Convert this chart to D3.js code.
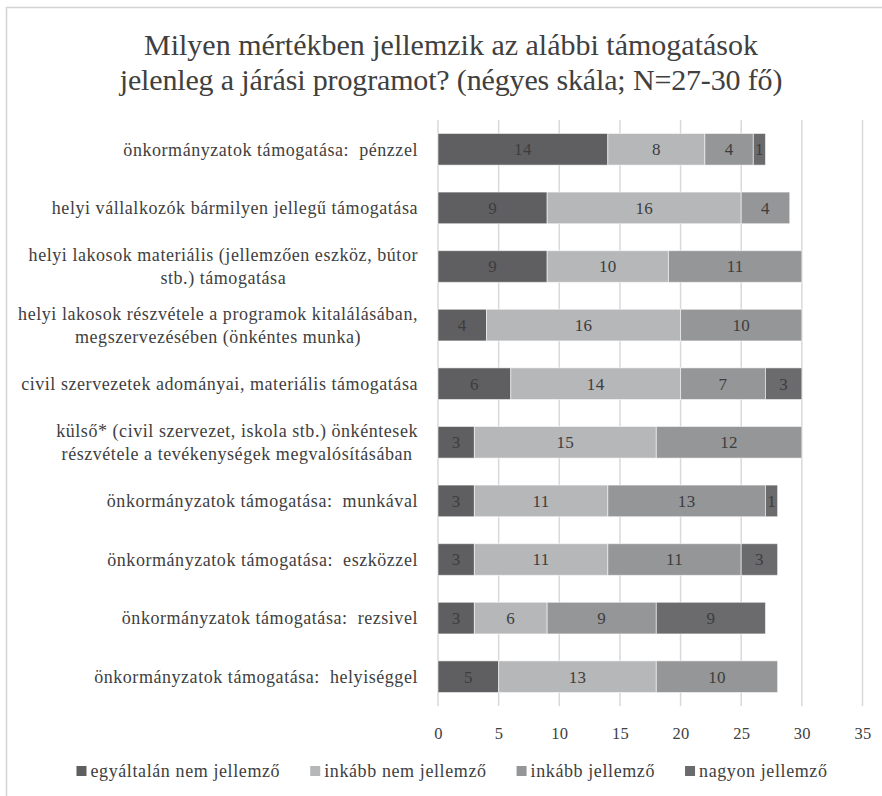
<!DOCTYPE html>
<html>
<head>
<meta charset="utf-8">
<script src="https://cdn.jsdelivr.net/npm/d3@7"></script>
<style>
  html, body { margin: 0; padding: 0; background: #fff; }
  svg { display: block; }
  text { font-family: "Liberation Serif", "DejaVu Serif", serif; white-space: pre; }
</style>
</head>
<body>
<svg id="chart" width="882" height="796"></svg>
<script>
// Survey responses (number of respondents) per support type, four-point scale
const categories = [
  ["önkormányzatok támogatása:  pénzzel"],
  ["helyi vállalkozók bármilyen jellegű támogatása"],
  ["helyi lakosok materiális (jellemzően eszköz, bútor", "stb.) támogatása"],
  ["helyi lakosok részvétele a programok kitalálásában,", "megszervezésében (önkéntes munka)"],
  ["civil szervezetek adományai, materiális támogatása"],
  ["külső* (civil szervezet, iskola stb.) önkéntesek", "részvétele a tevékenységek megvalósításában"],
  ["önkormányzatok támogatása:  munkával"],
  ["önkormányzatok támogatása:  eszközzel"],
  ["önkormányzatok támogatása:  rezsivel"],
  ["önkormányzatok támogatása:  helyiséggel"]
];
const seriesNames = ["egyáltalán nem jellemző", "inkább nem jellemző", "inkább jellemző", "nagyon jellemző"];
const egyaltalanNem = [14, 9, 9, 4, 6, 3, 3, 3, 3, 5];
const inkabbNem     = [8, 16, 10, 16, 14, 15, 11, 11, 6, 13];
const inkabbIgen    = [4, 4, 11, 10, 7, 12, 13, 11, 9, 10];
const nagyon        = [1, 0, 0, 0, 3, 0, 1, 3, 9, 0];
const xTicks = [0, 5, 10, 15, 20, 25, 30, 35];
const titleLines = [
  "Milyen mértékben jellemzik az alábbi támogatások",
  "jelenleg a járási programot? (négyes skála; N=27-30 fő)"
];

const colors = ["#5f5f61", "#b6b7b9", "#959698", "#6b6b6d"];
const textColor = "#404040";

const svg = d3.select("#chart");

// outer frame
svg.append("rect")
  .attr("x", 6.5).attr("y", 7.5)
  .attr("width", 900).attr("height", 900)
  .attr("fill", "none").attr("stroke", "#d4d4d4").attr("stroke-width", 1.5);

// title
svg.append("g").selectAll("text")
  .data(titleLines)
  .join("text")
  .attr("x", 451)
  .attr("y", (d, i) => 55 + i * 35)
  .attr("text-anchor", "middle")
  .attr("font-size", 30)
  .attr("fill", textColor)
  .attr("letter-spacing", (d, i) => i === 1 ? -0.15 : 0)
  .text(d => d);

const margin = { left: 438, top: 120, bottom: 706 };
const x = d3.scaleLinear().domain([0, 35]).range([438, 862.5]);
const y = d3.scaleBand().domain(d3.range(categories.length))
  .range([margin.top, margin.bottom]).paddingInner(0.46).paddingOuter(0.23);

// gridlines
svg.append("g").selectAll("line")
  .data(xTicks)
  .join("line")
  .attr("x1", d => x(d)).attr("x2", d => x(d))
  .attr("y1", margin.top).attr("y2", margin.bottom)
  .attr("stroke", "#d9d9d9").attr("stroke-width", 1.5);

// x axis labels
const xAxis = d3.axisBottom(x).tickValues(xTicks).tickSize(0).tickPadding(0);
const gx = svg.append("g").attr("transform", `translate(0, ${margin.bottom + 33})`).call(xAxis);
gx.select(".domain").remove();
gx.selectAll("text")
  .attr("font-family", "Liberation Serif, DejaVu Serif, serif")
  .attr("font-size", 16.5)
  .attr("letter-spacing", 0.3)
  .attr("fill", textColor)
  .attr("dy", 0);

// stacked data
const rows = categories.map((c, i) => ({
  i, vals: [egyaltalanNem[i], inkabbNem[i], inkabbIgen[i], nagyon[i]]
}));
const stack = d3.stack().keys([0, 1, 2, 3]).value((d, k) => d.vals[k]);
const stacked = stack(rows);

const gBars = svg.append("g");
stacked.forEach((layer, k) => {
  const g = gBars.append("g");
  g.selectAll("rect")
    .data(layer.filter(d => d[1] > d[0]))
    .join("rect")
    .attr("x", d => x(d[0]))
    .attr("y", d => y(d.data.i))
    .attr("width", d => x(d[1]) - x(d[0]))
    .attr("height", y.bandwidth())
    .attr("fill", colors[k])
    .attr("stroke", "#ffffff").attr("stroke-opacity", 0.55).attr("stroke-width", 1);
  g.selectAll("text")
    .data(layer.filter(d => d[1] > d[0]))
    .join("text")
    .attr("x", d => (x(d[0]) + x(d[1])) / 2)
    .attr("y", d => y(d.data.i) + y.bandwidth() / 2)
    .attr("dy", "0.35em")
    .attr("text-anchor", "middle")
    .attr("font-size", 17)
    .attr("letter-spacing", 0.3)
    .attr("fill", "#3d3d3d")
    .text(d => d[1] - d[0]);
});

// category labels: multi-line blocks centred, widest line right-aligned to 418
const labelRight = 418;
const gLab = svg.append("g");
categories.forEach((lines, i) => {
  const cy = y(i) + y.bandwidth() / 2;
  const lh = 23;
  const texts = lines.map((t, j) => gLab.append("text")
    .attr("font-size", 18)
    .attr("letter-spacing", 0.55)
    .attr("fill", textColor)
    .attr("text-anchor", "middle")
    .attr("y", cy + (j - (lines.length - 1) / 2) * lh)
    .attr("dy", "0.35em")
    .text(t));
  const w = d3.max(texts, t => t.node().getComputedTextLength());
  texts.forEach(t => t.attr("x", labelRight - w / 2));
});

// legend, centred under the chart
const gLeg = svg.append("g").attr("transform", "translate(0, 771)");
const items = seriesNames.map((name, k) => {
  const g = gLeg.append("g");
  g.append("rect").attr("x", 0).attr("y", -5).attr("width", 10).attr("height", 10).attr("fill", colors[k]);
  const t = g.append("text").attr("x", 14).attr("dy", "0.35em")
    .attr("font-size", 18).attr("letter-spacing", 0.6)
    .attr("fill", textColor).text(name);
  return { g, w: 14 + t.node().getComputedTextLength() };
});
const gap = 30;
const total = d3.sum(items, d => d.w) + gap * (items.length - 1);
let lx = 452 - total / 2;
items.forEach(it => {
  it.g.attr("transform", `translate(${lx}, 0)`);
  lx += it.w + gap;
});
</script>
</body>
</html>
